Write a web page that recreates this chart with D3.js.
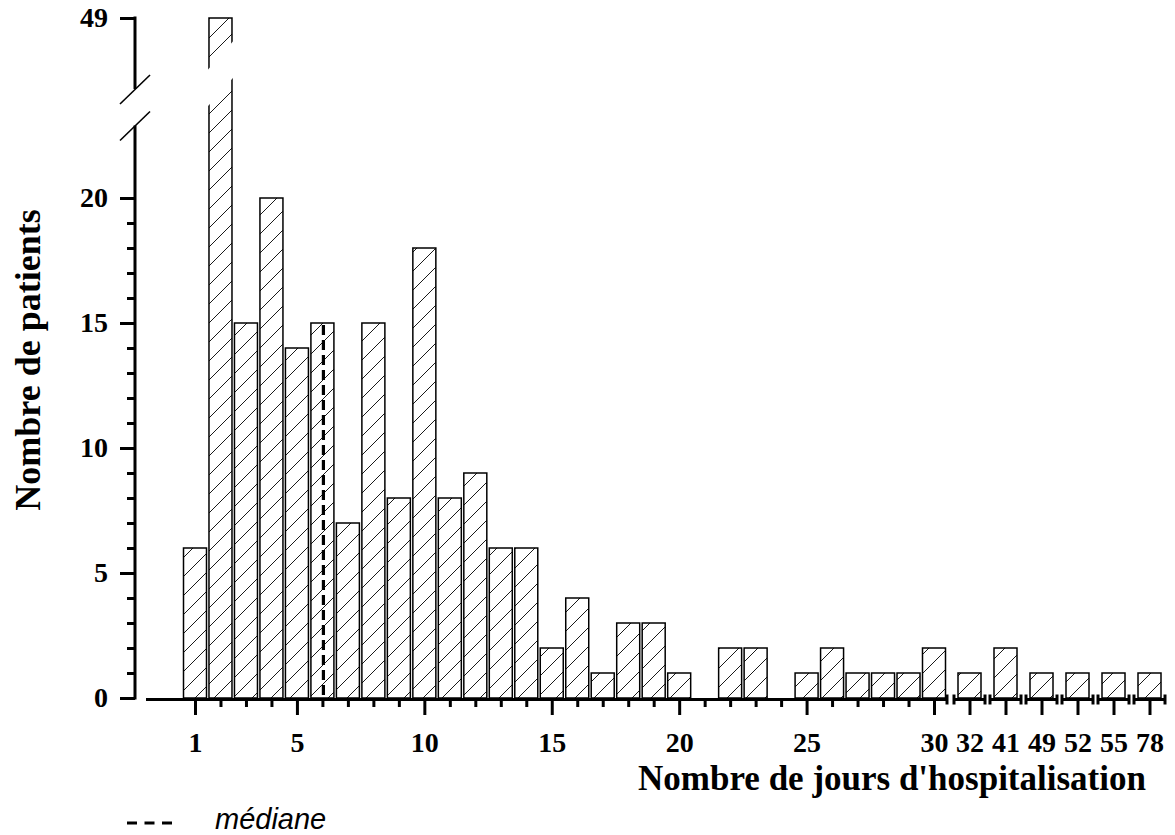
<!DOCTYPE html>
<html><head><meta charset="utf-8">
<script src="https://cdn.jsdelivr.net/npm/d3@7"></script>
<style>body{margin:0;background:#fff} svg{display:block}</style>
</head><body>
<svg id="chart" width="1175" height="835"></svg>
<script>
// ---- data ----
const days = d3.range(1, 31); // 1..30 (positions)
const extraCategories = ["32", "41", "49", "52", "55", "78"];
const categories = days.map(String).concat(extraCategories);
const counts = [6, 49, 15, 20, 14, 15, 7, 15, 8, 18, 8, 9, 6, 6, 2, 4, 1, 3, 3, 1,
                0, 2, 2, 0, 1, 2, 1, 1, 1, 2, 1, 2, 1, 1, 1, 1];
const xMajorTicks = [1, 5, 10, 15, 20, 25, 30];
const xTickLabels = ["1", "5", "10", "15", "20", "25", "30", "32", "41", "49", "52", "55", "78"];
const yTickValues = [0, 5, 10, 15, 20, 49];
const yMinorTicks = d3.range(0, 21);
const medianDay = 6;
const xTitle = "Nombre de jours d'hospitalisation";
const yTitle = "Nombre de patients";
const legendLabel = "médiane";

const data = categories.map((c, i) => ({cat: c, value: counts[i]}));

// ---- setup ----
const svg = d3.select("#chart");
const serif = "'Liberation Serif','Times New Roman',serif";
const defs = svg.append("defs");
const pat = defs.append("pattern").attr("id", "hatch")
  .attr("patternUnits", "userSpaceOnUse").attr("width", 19).attr("height", 19);
pat.append("rect").attr("width", 19).attr("height", 19).attr("fill", "#fff");
pat.append("path").attr("d", "M0,19L19,0M-2,2L2,-2M17,21L21,17")
  .attr("stroke", "#000").attr("stroke-width", 0.9);

const y0 = 698;
const xMain = d3.scaleLinear().domain([1, 30]).range([195, 934]);
const xExtra = d3.scalePoint().domain(extraCategories).range([969.5, 1149.5]);
const xPos = c => (extraCategories.includes(c) ? xExtra(c) : xMain(+c));
// broken y scale: lower segment 0..23, upper segment 46.16..49
const y = d3.scaleLinear().domain([0, 23, 46.16, 49]).range([y0, 123, 89, 18]);
const barW = 23;

// ---- bars ----
svg.append("g").selectAll("rect").data(data.filter(d => d.value > 0)).join("rect")
  .attr("x", d => xPos(d.cat) - barW / 2)
  .attr("y", d => y(d.value))
  .attr("width", barW)
  .attr("height", d => y0 - y(d.value))
  .attr("fill", "url(#hatch)")
  .attr("stroke", "#000").attr("stroke-width", 1.5);

// break in the tall bar
const big = data.find(d => d.value > 23);
const bx = xPos(big.cat);
const brTop = y(47.5), gap = 36.5, sl = 25 / 22;
const ext = barW / 2 + 4;
svg.append("polygon")
  .attr("points", [
    [bx - ext, brTop + sl * ext], [bx + ext, brTop - sl * ext],
    [bx + ext, brTop - sl * ext + gap], [bx - ext, brTop + sl * ext + gap]
  ].map(p => p.join(",")).join(" "))
  .attr("fill", "#fff");

// ---- median line ----
const medVal = data.find(d => d.cat === String(medianDay)).value;
svg.append("line")
  .attr("x1", xMain(medianDay) + 1).attr("x2", xMain(medianDay) + 1)
  .attr("y1", y(medVal) + 2).attr("y2", y0)
  .attr("stroke", "#000").attr("stroke-width", 3.2).attr("stroke-dasharray", "10,5");

// ---- y axis ----
const ax = 135;
const yAxisG = svg.append("g").attr("transform", `translate(${ax},0)`);
yAxisG.call(d3.axisLeft(y).tickValues(yMinorTicks).tickSize(8).tickFormat(""));
yAxisG.call(g => g.select(".domain").remove());
const yMajG = svg.append("g").attr("transform", `translate(${ax},0)`);
yMajG.call(d3.axisLeft(y).tickValues(yTickValues).tickSize(15).tickPadding(12).tickFormat(d3.format("d")));
yMajG.select(".domain").remove();
svg.selectAll("g.tick line").attr("stroke", "#000").attr("stroke-width", 3);
yMajG.selectAll("text").attr("font-family", serif).attr("font-weight", "bold")
  .attr("font-size", 28).attr("fill", "#000");
// axis segments + break marks
svg.append("line").attr("x1", ax).attr("x2", ax).attr("y1", y(0) + 1.5).attr("y2", y(22.9))
  .attr("stroke", "#000").attr("stroke-width", 3);
svg.append("line").attr("x1", ax).attr("x2", ax).attr("y1", y(49) - 1.5).attr("y2", y(46.16))
  .attr("stroke", "#000").attr("stroke-width", 3);
[y(46.16), y(22.9)].forEach(yy => {
  svg.append("line").attr("x1", ax - 15).attr("y1", yy + 15)
    .attr("x2", ax + 15).attr("y2", yy - 14)
    .attr("stroke", "#000").attr("stroke-width", 1.6);
});

// ---- x axis ----
const xAxisY = 699.5;
const xg = svg.append("g").attr("transform", `translate(0,${y0})`);
xg.call(d3.axisBottom(xMain).tickValues(days.filter(d => !xMajorTicks.includes(d))).tickSize(9).tickFormat(""));
xg.select(".domain").remove();
const xg2 = svg.append("g").attr("transform", `translate(0,${y0})`);
xg2.call(d3.axisBottom(xMain).tickValues(xMajorTicks).tickSize(17).tickFormat(d3.format("d")));
xg2.select(".domain").remove();
const xg3 = svg.append("g").attr("transform", `translate(0,${y0})`);
xg3.call(d3.axisBottom(xExtra).tickSize(17));
xg3.select(".domain").remove();
[xg, xg2, xg3].forEach(g => {
  g.selectAll("line").attr("stroke", "#000").attr("stroke-width", 3);
  g.selectAll("text").attr("y", 54).attr("dy", 0)
    .attr("font-family", serif).attr("font-weight", "bold").attr("font-size", 28).attr("fill", "#000");
});
// main axis line
const mainEnd = xMain(30) + 13;
svg.append("line").attr("x1", 146).attr("x2", mainEnd).attr("y1", xAxisY).attr("y2", xAxisY)
  .attr("stroke", "#000").attr("stroke-width", 3);
const cap = xx => svg.append("line").attr("x1", xx).attr("x2", xx)
  .attr("y1", xAxisY - 5).attr("y2", xAxisY + 5).attr("stroke", "#000").attr("stroke-width", 3);
cap(mainEnd);
extraCategories.forEach(c => {
  const cx = xExtra(c);
  svg.append("line").attr("x1", cx - 15.5).attr("x2", cx + 15.5).attr("y1", xAxisY).attr("y2", xAxisY)
    .attr("stroke", "#000").attr("stroke-width", 3);
  cap(cx - 15.5); cap(cx + 15.5);
});

// ---- titles ----
svg.append("text").attr("transform", "translate(40,360) rotate(-90)")
  .attr("text-anchor", "middle").attr("font-family", serif).attr("font-weight", "bold")
  .attr("font-size", 36).text(yTitle);
svg.append("text").attr("x", 892).attr("y", 790)
  .attr("text-anchor", "middle").attr("font-family", serif).attr("font-weight", "bold")
  .attr("font-size", 35).text(xTitle);

// ---- legend ----
svg.append("line").attr("x1", 127).attr("x2", 172).attr("y1", 823).attr("y2", 823)
  .attr("stroke", "#000").attr("stroke-width", 3.2).attr("stroke-dasharray", "10,7.5");
svg.append("text").attr("x", 215).attr("y", 829)
  .attr("font-family", "'Liberation Sans',Arial,sans-serif").attr("font-style", "italic")
  .attr("font-size", 29).text(legendLabel);
</script>
</body></html>
